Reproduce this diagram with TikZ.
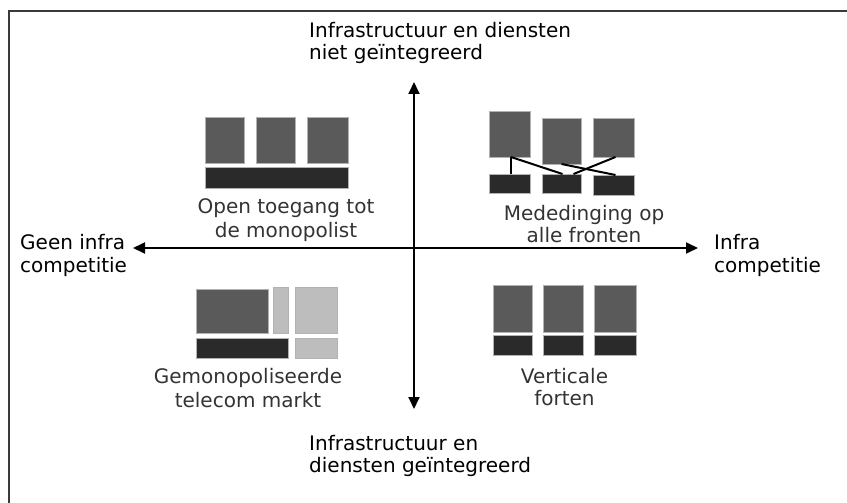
\documentclass[tikz,border=0pt]{standalone}
\usepackage{fontspec}
\setmainfont{DejaVu Sans}
\usetikzlibrary{arrows.meta,calc}
\definecolor{midg}{HTML}{5A5A5A}
\definecolor{darkg}{HTML}{2A2A2A}
\definecolor{lightg}{HTML}{BDBDBD}
\definecolor{labg}{HTML}{333333}
\definecolor{frameg}{HTML}{3A3A3A}
\tikzset{
  box/.style={draw=black!30, line width=0.5pt, inner sep=0pt, outer sep=0pt, anchor=north west},
  axis/.style={line width=1.8pt, -{Triangle[length=12pt,width=11pt]}},
  link/.style={line width=2pt, black},
  axlab/.style={font=\fontsize{20}{23}\selectfont, text=black, inner sep=0pt, align=left, anchor=base west},
  qlab/.style={font=\fontsize{20}{23}\selectfont, text=labg, inner sep=0pt, align=center, anchor=base},
}
\begin{document}
\begin{tikzpicture}[x=1pt,y=-1pt]
\useasboundingbox (0,0) rectangle (847,503);
% frame
\draw[frameg, line width=2.2pt] (9,503) -- (9,11) -- (847,11);
% axes
\coordinate (c) at (414,248);
\coordinate (top) at (414,82);
\coordinate (bot) at (414,409);
\coordinate (lft) at (133,248);
\coordinate (rgt) at (698,248);
\draw[axis] (c) -- (top);
\draw[axis] (c) -- (bot);
\draw[axis] (c) -- (lft);
\draw[axis] (c) -- (rgt);
% axis labels (anchor = baseline of last line)
\node[axlab, font=\fontsize{20}{23}\selectfont] (tlab) at (309,60) {Infrastructuur en diensten\\niet geïntegreerd};
\node[axlab, font=\fontsize{20}{22}\selectfont] (blab) at (309,472) {Infrastructuur en\\diensten geïntegreerd};
\node[axlab] (llab) at (20,272) {Geen infra\\competitie};
\node[axlab] (rlab) at (714,272) {Infra\\competitie};
% Q1: open toegang
\node[box, fill=midg, minimum width=39pt, minimum height=46pt] (p1) at (205,117) {};
\node[box, fill=midg, minimum width=39pt, minimum height=46pt] (p2) at (256,117) {};
\node[box, fill=midg, minimum width=41pt, minimum height=46pt] (p3) at (307,117) {};
\node[box, fill=darkg, minimum width=143pt, minimum height=21pt] (pb) at (205,167) {};
\node[qlab, font=\fontsize{20}{24}\selectfont] (q1) at (286,237) {Open toegang tot\\de monopolist};
% Q2: mededinging
\node[box, fill=midg, minimum width=41pt, minimum height=46pt] (a1) at (489,111) {};
\node[box, fill=midg, minimum width=39pt, minimum height=46pt] (a2) at (542,118) {};
\node[box, fill=midg, minimum width=41pt, minimum height=39pt] (a3) at (593,118) {};
\node[box, fill=darkg, minimum width=41pt, minimum height=19pt] (b1) at (489,174) {};
\node[box, fill=darkg, minimum width=39pt, minimum height=19pt] (b2) at (542,174) {};
\node[box, fill=darkg, minimum width=41pt, minimum height=20pt] (b3) at (593,175) {};
\draw[link] ($(a1.south)+(1.5,0)$) -- ($(b1.north)+(1.5,0)$);
\draw[link] ($(a1.south)+(1.5,0)$) -- ($(b2.north)+(1,0)$);
\draw[link] (a2.south) -- ($(b3.north)+(2,0)$);
\draw[link] ($(a3.south)+(2,0)$) -- ($(b2.north)+(12,0)$);
\node[qlab, font=\fontsize{20}{22}\selectfont] (q2) at (584,242) {Mededinging op\\alle fronten};
% Q3: gemonopoliseerde
\node[box, fill=midg, minimum width=72pt, minimum height=44pt] (m1) at (196,289) {};
\node[box, fill=lightg, minimum width=15pt, minimum height=46pt] (m2) at (273,287) {};
\node[box, fill=lightg, minimum width=42pt, minimum height=46pt] (m3) at (295,287) {};
\node[box, fill=darkg, minimum width=92pt, minimum height=20pt] (m4) at (196,338) {};
\node[box, fill=lightg, minimum width=42pt, minimum height=20pt] (m5) at (295,338) {};
\node[qlab, font=\fontsize{20}{24}\selectfont] (q3) at (248,407) {Gemonopoliseerde\\telecom markt};
% Q4: verticale forten
\node[box, fill=midg, minimum width=39pt, minimum height=47pt] (v1) at (493,285) {};
\node[box, fill=midg, minimum width=40pt, minimum height=47pt] (v2) at (543,285) {};
\node[box, fill=midg, minimum width=42pt, minimum height=47pt] (v3) at (594,285) {};
\node[box, fill=darkg, minimum width=39pt, minimum height=20pt] (w1) at (493,335) {};
\node[box, fill=darkg, minimum width=40pt, minimum height=20pt] (w2) at (543,335) {};
\node[box, fill=darkg, minimum width=42pt, minimum height=20pt] (w3) at (594,335) {};
\node[qlab, font=\fontsize{20}{22}\selectfont] (q4) at (564.5,405) {Verticale\\forten};
\end{tikzpicture}
\end{document}
